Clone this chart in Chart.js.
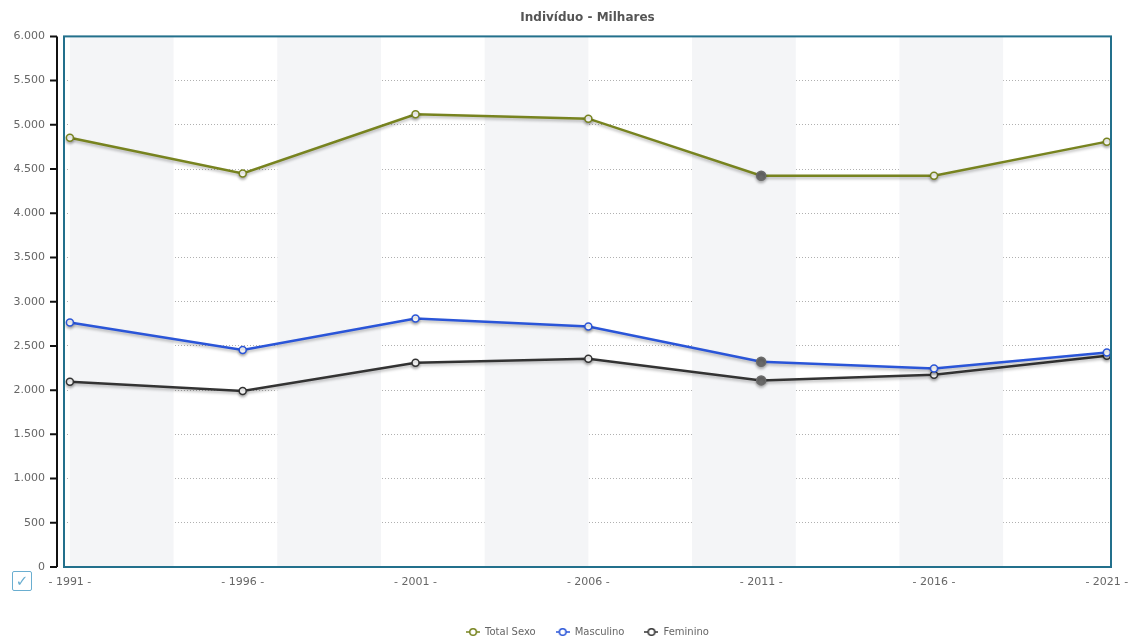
<!DOCTYPE html>
<html>
<head>
<meta charset="utf-8">
<script src="https://cdn.jsdelivr.net/npm/chart.js@4.4.1/dist/chart.umd.min.js"></script>
<style>
  body { margin: 0; background: #fff; }
  #wrap { position: relative; width: 1137px; height: 642px; }
  #check {
    position: absolute; left: 12px; top: 571px; width: 18px; height: 18px;
    border: 1px solid #6aaed0; border-radius: 2px; color: #6aaed0;
    font: 15px "DejaVu Sans", sans-serif; line-height: 18px; text-align: center;
  }
</style>
</head>
<body>
<div id="wrap">
  <canvas id="chart"></canvas>
  <span id="check">✓</span>
</div>
<script>
const anos = [1991, 1996, 2001, 2006, 2011, 2016, 2021];
const totalSexo = [4855, 4450, 5120, 5070, 4425, 4425, 4810];
const masculino = [2765, 2455, 2810, 2720, 2320, 2245, 2425];
const feminino = [2095, 1990, 2310, 2355, 2110, 2175, 2390];
const selecionado = 4; // ponto em destaque (2011)

const corTotal = "#77831f";
const corMasc = "#2a55d8";
const corFem = "#333333";

function ptFill() {
  return anos.map((a, i) => (i === selecionado ? "#6a6a6a" : "#ffffff"));
}
function ptBorder(cor) {
  return anos.map((a, i) => (i === selecionado ? "#6a6a6a" : cor));
}
function ptRadius() {
  return anos.map((a, i) => (i === selecionado ? 4.5 : 3.5));
}

function serie(label, values, cor) {
  return {
    label: label,
    data: anos.map((a, i) => ({ x: a, y: values[i] })),
    borderColor: cor,
    backgroundColor: cor,
    borderWidth: 2.5,
    pointRadius: ptRadius(),
    pointBackgroundColor: ptFill(),
    pointBorderColor: ptBorder(cor),
    pointBorderWidth: 1.5,
    tension: 0,
  };
}

// icone da legenda: linha com circulo no meio
function legendIcon(cor) {
  const c = document.createElement("canvas");
  c.width = 14; c.height = 10;
  const g = c.getContext("2d");
  g.strokeStyle = cor; g.lineWidth = 1.5;
  g.beginPath(); g.moveTo(0, 5); g.lineTo(14, 5); g.stroke();
  g.fillStyle = "#fff";
  g.beginPath(); g.arc(7, 5, 3.3, 0, Math.PI * 2); g.fill(); g.stroke();
  return c;
}

function fmtMilhar(v) {
  return String(v).replace(/\B(?=(\d{3})+(?!\d))/g, ".");
}

// faixas verticais, fundo, moldura e eixo preto
const fundo = {
  id: "fundo",
  beforeDatasetsDraw(chart) {
    const { ctx, chartArea: a, scales: { x } } = chart;
    ctx.save();
    ctx.fillStyle = "#f4f5f7";
    for (let ano = 1991; ano < 2021; ano += 6) {
      const x0 = Math.max(x.getPixelForValue(ano), a.left);
      const x1 = x.getPixelForValue(ano + 3);
      ctx.fillRect(x0, a.top, x1 - x0, a.bottom - a.top);
    }
    ctx.restore();
  },
  beforeDatasetDraw(chart) {
    const ctx = chart.ctx;
    ctx.save();
    ctx.shadowColor = "rgba(0,0,0,0.28)";
    ctx.shadowBlur = 3;
    ctx.shadowOffsetY = 2;
  },
  afterDatasetDraw(chart) {
    chart.ctx.restore();
  },
  afterDraw(chart) {
    const { ctx, chartArea: a, scales: { y } } = chart;
    ctx.save();
    ctx.strokeStyle = "#23708c";
    ctx.lineWidth = 2;
    ctx.strokeRect(a.left, a.top, a.right - a.left, a.bottom - a.top);
    ctx.strokeStyle = "#111";
    ctx.lineWidth = 2;
    const ax = a.left - 7;
    ctx.beginPath();
    ctx.moveTo(ax, a.top); ctx.lineTo(ax, a.bottom);
    y.ticks.forEach(t => {
      const py = y.getPixelForValue(t.value);
      ctx.moveTo(ax - 7, py); ctx.lineTo(ax, py);
    });
    ctx.stroke();
    ctx.restore();
  }
};

const ctx = document.getElementById("chart").getContext("2d");
new Chart(ctx, {
  type: "line",
  data: {
    datasets: [
      serie("Total Sexo", totalSexo, corTotal),
      serie("Masculino", masculino, corMasc),
      serie("Feminino", feminino, corFem),
    ],
  },
  options: {
    responsive: true,
    maintainAspectRatio: false,
    animation: false,
    layout: { padding: { left: 0, right: 26, top: 0, bottom: -5 } },
    scales: {
      x: {
        type: "linear",
        min: 1990.83,
        max: 2021.12,
        afterBuildTicks(scale) {
          scale.ticks = anos.map(a => ({ value: a }));
        },
        afterFit(scale) {
          scale.height = 40;
          scale.paddingLeft = 0;
          scale.paddingRight = 0;
        },
        grid: { display: false, drawTicks: false },
        border: { display: false },
        ticks: {
          padding: 9,
          color: "#666",
          font: { family: "DejaVu Sans", size: 11 },
          callback: v => "- " + v + " -",
        },
      },
      y: {
        min: 0,
        max: 6000,
        afterFit(scale) { scale.width = 64; },
        grid: {
          color: "#b0b0b0",
          drawTicks: false,
        },
        border: { display: false, dash: [1, 2] },
        ticks: {
          stepSize: 500,
          padding: 19,
          color: "#666",
          font: { family: "DejaVu Sans", size: 11 },
          callback: v => fmtMilhar(v),
        },
      },
    },
    plugins: {
      title: {
        display: true,
        text: "Indivíduo - Milhares",
        fullSize: false,
        color: "#555",
        font: { family: "DejaVu Sans", size: 12, weight: "bold" },
        padding: { top: 11, bottom: 11 },
      },
      legend: {
        position: "bottom",
        fullSize: false,
        labels: {
          usePointStyle: true,
          pointStyleWidth: 14,
          padding: 20,
          color: "#666",
          font: { family: "DejaVu Sans", size: 10 },
          generateLabels(chart) {
            return chart.data.datasets.map((d, i) => ({
              text: d.label,
              fillStyle: "#fff",
              strokeStyle: d.borderColor,
              pointStyle: legendIcon(d.borderColor),
              datasetIndex: i,
              hidden: false,
              fontColor: "#666",
            }));
          },
        },
      },
      tooltip: { enabled: false },
    },
  },
  plugins: [fundo],
});
</script>
</body>
</html>
